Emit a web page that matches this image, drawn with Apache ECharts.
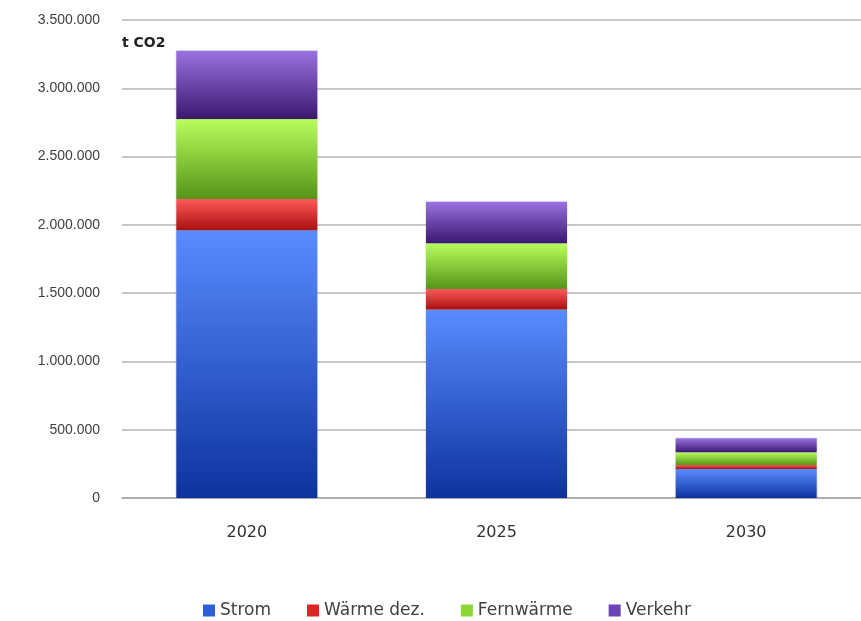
<!DOCTYPE html>
<html>
<head>
<meta charset="utf-8">
<script src="https://cdn.jsdelivr.net/npm/echarts@6/dist/echarts.min.js"></script>
<style>
  html, body { margin: 0; padding: 0; background: #ffffff; overflow: hidden; }
  #chart { width: 861px; height: 621px; }
</style>
</head>
<body>
<div id="chart"></div>
<script>
// CO2 emissions by sector (t CO2)
const years = ['2020', '2025', '2030'];
const strom = [1960000, 1380000, 212000];
const waermeDez = [230000, 150000, 30000];
const fernwaerme = [585000, 335000, 93000];
const verkehr = [500000, 305000, 102000];
const yTicks = [0, 500000, 1000000, 1500000, 2000000, 2500000, 3000000, 3500000];

function grad(top, bottom) {
  return new echarts.graphic.LinearGradient(0, 0, 0, 1, [
    { offset: 0, color: top },
    { offset: 1, color: bottom }
  ]);
}

const palette = {
  strom: ['#5a8cff', '#0d329e'],
  waerme: ['#ff5a5a', '#a80f0f'],
  fern: ['#b8ff5c', '#559418'],
  verkehr: ['#9a72e0', '#3a1870']
};

function fmt(v) {
  return String(v).replace(/\B(?=(\d{3})+(?!\d))/g, '.');
}

function seriesOf(name, data, colors) {
  return {
    name: name,
    type: 'bar',
    stack: 'total',
    data: data,
    barCategoryGap: '43.5%',
    itemStyle: {
      color: grad(colors[0], colors[1]),
      shadowColor: 'rgba(120,120,160,0.35)',
      shadowBlur: 2
    },
    emphasis: { disabled: true }
  };
}

const chart = echarts.init(document.getElementById('chart'), null, { renderer: 'canvas' });
chart.setOption({
  animation: false,
  backgroundColor: '#ffffff',
  // plot area runs slightly past the right edge of the canvas
  grid: {
    left: 122, width: 749, top: 20, bottom: 123,
    containLabel: false,
    outerBoundsMode: 'none'
  },
  legend: {
    top: 597,
    left: 198,
    itemWidth: 12,
    itemHeight: 12,
    itemGap: 36,
    icon: 'rect',
    textStyle: { fontFamily: 'DejaVu Sans', fontSize: 17, color: '#404040' },
    data: [
      { name: 'Strom', itemStyle: { color: '#2f5fd8' } },
      { name: 'Wärme dez.', itemStyle: { color: '#e02424' } },
      { name: 'Fernwärme', itemStyle: { color: '#8ad838' } },
      { name: 'Verkehr', itemStyle: { color: '#6a44b8' } }
    ]
  },
  xAxis: {
    type: 'category',
    data: years,
    axisTick: { show: false },
    axisLine: { lineStyle: { color: '#a8a8a8', width: 1.5 } },
    axisLabel: { margin: 27, fontFamily: 'DejaVu Sans', fontSize: 16, color: '#303030' }
  },
  yAxis: {
    type: 'value',
    min: yTicks[0],
    max: yTicks[yTicks.length - 1],
    interval: yTicks[1] - yTicks[0],
    axisLine: { show: false },
    axisTick: { show: false },
    splitLine: { lineStyle: { color: '#b4b4b4', width: 1.5 } },
    axisLabel: {
      margin: 22,
      fontFamily: 'Liberation Sans',
      fontSize: 14,
      color: '#404040',
      formatter: fmt
    }
  },
  graphic: [{
    type: 'text',
    left: 122,
    top: 36,
    style: { text: 't CO2', font: 'bold 14px DejaVu Sans', fill: '#202020' }
  }],
  series: [
    seriesOf('Strom', strom, palette.strom),
    seriesOf('Wärme dez.', waermeDez, palette.waerme),
    seriesOf('Fernwärme', fernwaerme, palette.fern),
    seriesOf('Verkehr', verkehr, palette.verkehr)
  ]
});
</script>
</body>
</html>
